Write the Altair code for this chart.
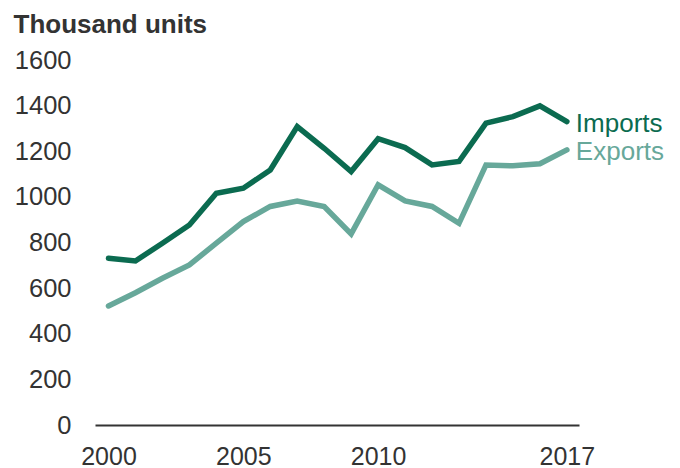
import altair as alt
import pandas as pd

years = list(range(2000, 2018))
imports = [731, 719, 797, 877, 1016, 1038, 1118, 1308, 1213, 1111, 1255, 1216, 1140, 1155, 1323, 1352, 1399, 1330]
exports = [522, 580, 643, 702, 797, 892, 958, 982, 958, 838, 1053, 982, 958, 884, 1140, 1136, 1145, 1206]
series = ["Imports", "Exports"]
colors = ["#0b6b50", "#67a89a"]
x_ticks = [2000, 2005, 2010, 2017]
y_ticks = [0, 200, 400, 600, 800, 1000, 1200, 1400, 1600]

df = pd.DataFrame({
    "year": years * 2,
    "value": imports + exports,
    "series": ["Imports"] * len(years) + ["Exports"] * len(years),
})
last = df[df["year"] == years[-1]]

FONT = "Liberation Sans"
TXT = "#333333"

x = alt.X(
    "year:Q",
    scale=alt.Scale(domain=[1999.5, 2017.45], nice=False, zero=False),
    axis=alt.Axis(
        values=x_ticks, format="d", title=None, grid=False, ticks=False,
        domain=True, domainColor=TXT, domainWidth=2,
        labelFontSize=25, labelColor=TXT, labelFont=FONT, labelPadding=19,
        labelFlush=False, labelOverlap=False, labelBound=False,
    ),
)
y = alt.Y(
    "value:Q",
    scale=alt.Scale(domain=[0, 1600], nice=False),
    axis=alt.Axis(
        values=y_ticks, format="d", grid=False, ticks=False, domain=False,
        labelFontSize=25.5, labelColor=TXT, labelFont=FONT, labelPadding=24,
        labelOverlap=False, labelBound=False, labelFlush=False,
        title="Thousand units", titleAngle=0, titleX=-82, titleY=-36,
        titleAlign="left", titleBaseline="middle", titleFontSize=26,
        titleFontWeight="bold", titleColor=TXT, titleFont=FONT,
    ),
)
color = alt.Color("series:N", scale=alt.Scale(domain=series, range=colors), legend=None)

lines = alt.Chart(df).mark_line(strokeWidth=5.5, strokeJoin="miter", strokeCap="round").encode(
    x=x, y=y, color=color, detail="series:N"
)
labels = alt.Chart(last).mark_text(
    align="left", baseline="middle", dx=9, dy=2, fontSize=26, font=FONT
).encode(x=x, y=y, text="series:N", color=color)

chart = alt.layer(lines, labels).properties(
    width=484, height=365,
    autosize=alt.AutoSizeParams(type="none"),
    padding={"left": 87, "top": 52, "right": 90, "bottom": 44},
).configure_view(stroke=None)

chart.save("out.html", embed_options={"renderer": "svg", "actions": False})
